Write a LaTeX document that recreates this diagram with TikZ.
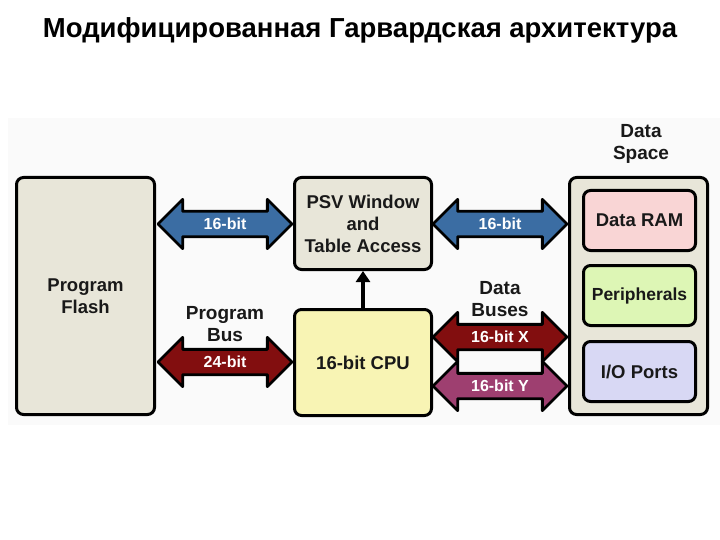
\documentclass[tikz,border=0pt]{standalone}
\usepackage{fontspec}
\setmainfont{Liberation Sans}
\usepackage{tikz}
\usetikzlibrary{shapes.arrows}
\usetikzlibrary{arrows.meta}

\definecolor{beige}{HTML}{E8E6D9}
\definecolor{cpuyellow}{HTML}{F8F4B4}
\definecolor{rampink}{HTML}{F9D5D5}
\definecolor{pergreen}{HTML}{DDF6B5}
\definecolor{iolilac}{HTML}{D8D8F4}
\definecolor{busblue}{HTML}{3B6DA3}
\definecolor{busred}{HTML}{820E0F}
\definecolor{busplum}{HTML}{9E3F70}

\begin{document}
\begin{tikzpicture}[x=1pt,y=-1pt,
    blk/.style={draw,line width=3pt,rounded corners=7pt,align=center,
        font=\fontsize{18.5}{22}\selectfont\bfseries,text=black!90},
    bus/.style={double arrow,draw,line width=2.8pt,fill=#1,text=white,
        font=\fontsize{16}{18}\selectfont\bfseries,minimum height=134pt,
        text height=11.5pt,text depth=0pt,inner ysep=5.5pt,
        double arrow head extend=12pt,line join=round},
    lbl/.style={align=center,font=\fontsize{19}{22.5}\selectfont\bfseries,text=black!90}]

        \useasboundingbox (0,0) rectangle (720,540);
        \fill[black!2] (8,118) rectangle (720,425);

        \node[font=\fontsize{27.5}{30}\selectfont\bfseries] (title) at (360, 30) {Модифицированная Гарвардская архитектура};

        \node[blk,fill=beige,minimum width=138,minimum height=237]      (flash) at (85.5, 296)  {Program\\Flash};
        \node[blk,fill=beige,minimum width=137,minimum height=92]       (psv) at (363, 223.5)   {PSV Window\\and\\Table Access};
        \node[blk,fill=cpuyellow,minimum width=137,minimum height=106]  (cpu) at (363, 362.5)   {16-bit CPU};

        \node[blk,fill=beige,minimum width=138,minimum height=237]      (dspace) at (638.5, 296) {};
        \node[blk,fill=rampink,minimum width=112,minimum height=60]     (ram) at (639.5, 220.5)  {Data RAM};
        \node[blk,fill=pergreen,minimum width=112,minimum height=60,
              font=\fontsize{17.5}{20}\selectfont\bfseries]             (periph) at (639.5, 295.5) {Peripherals};
        \node[blk,fill=iolilac,minimum width=112,minimum height=60]     (io) at (639.5, 371.5)   {I/O Ports};

        \node[lbl] (dslabel) at (641, 144)  {Data\\Space};
        \node[lbl] (pblabel) at (225, 324)  {Program\\Bus};
        \node[lbl] (dblabel) at (500, 299)  {Data\\Buses};

        \node[bus=busblue]  (flashpsv) at (225, 224)  {16-bit};
        \node[bus=busblue]  (psvdata) at (500, 224)   {16-bit};
        \node[bus=busred]   (progbus) at (225, 362)   {24-bit};
        \node[bus=busred]   (xbus) at (500, 337)      {16-bit X};
        \node[bus=busplum]  (ybus) at (500, 386)      {16-bit Y};

        \draw[line width=3.5pt,-{Triangle[length=11pt,width=14pt]}] (cpu.north) -- (psv.south);
\end{tikzpicture}
\end{document}
